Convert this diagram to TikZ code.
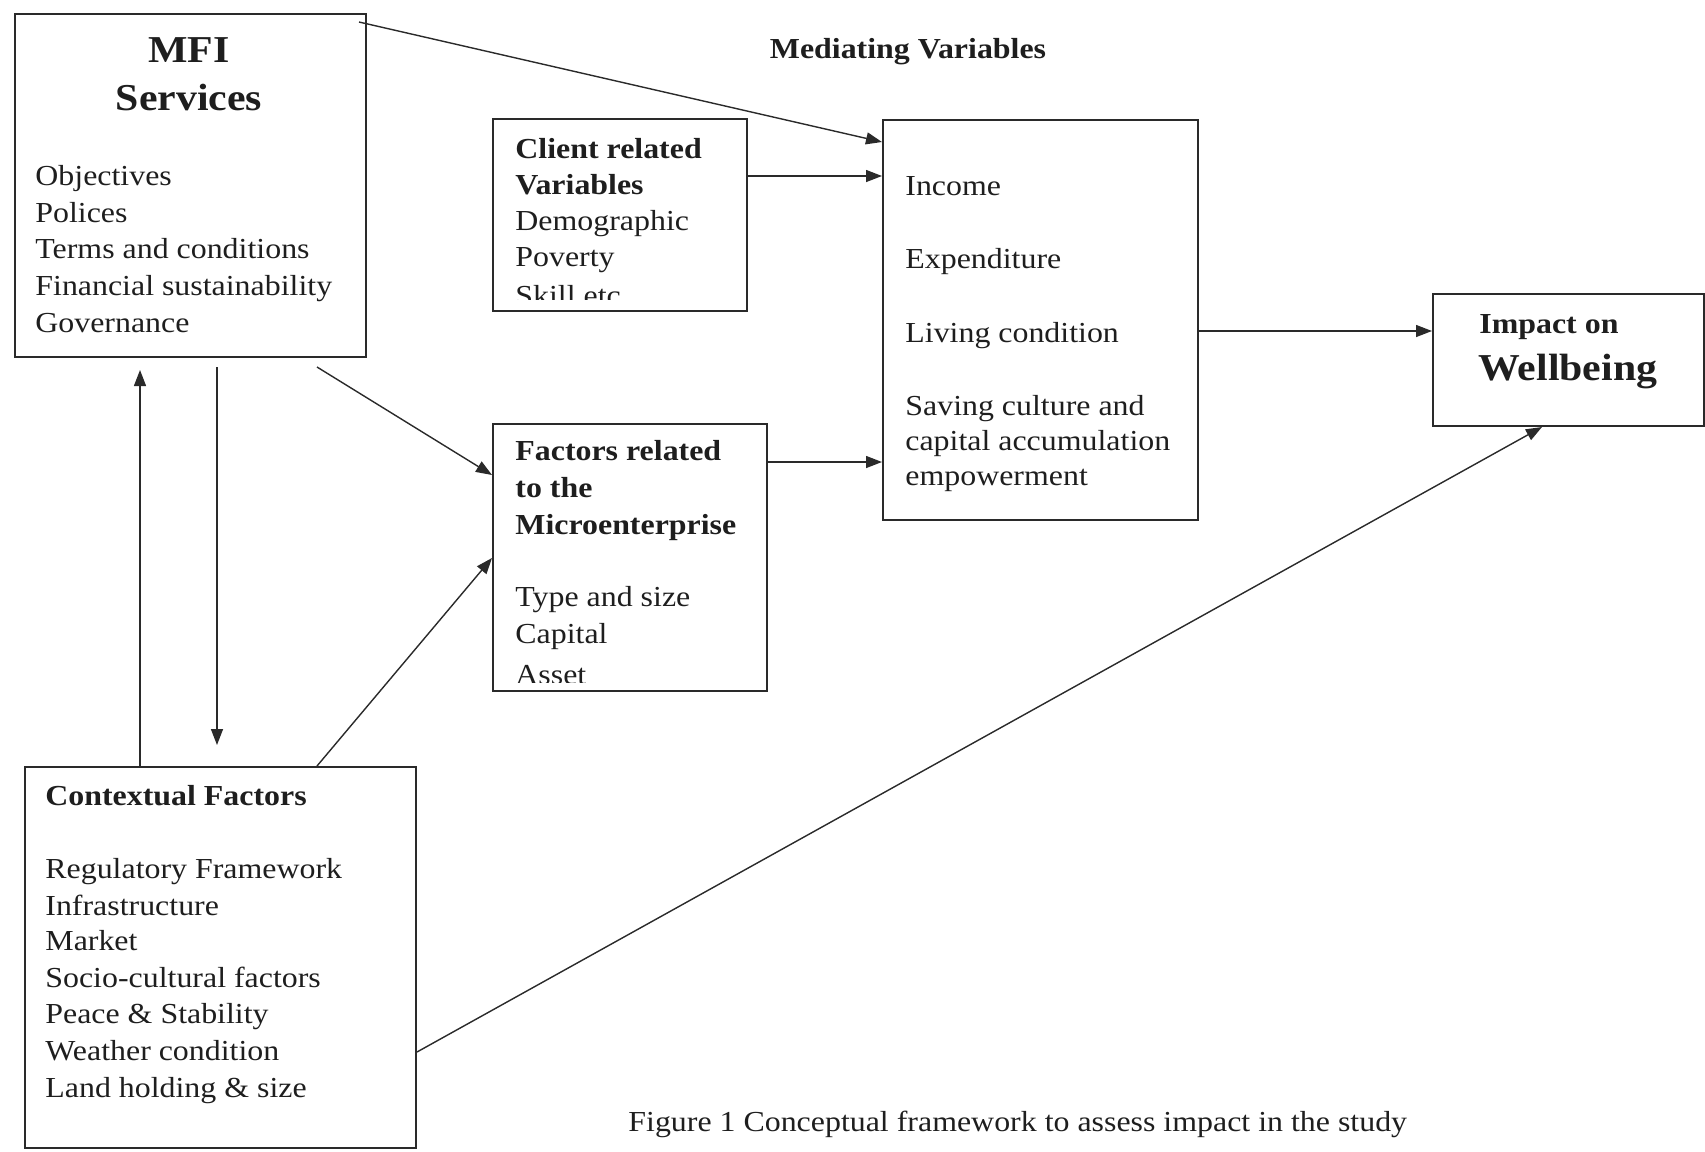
\documentclass[tikz,border=0pt]{standalone}
\usepackage{fontspec}
\setmainfont{Liberation Serif}[FakeStretch=1.1]
\usetikzlibrary{arrows.meta}

\definecolor{linec}{HTML}{2A2A2A}
\definecolor{textc}{HTML}{1E1E1E}

\tikzset{
  box/.style={draw=linec, line width=1pt, inner sep=0pt, anchor=north west},
  item/.style={anchor=base west, inner sep=0pt, text=textc, font=\fontsize{14.5}{17}\selectfont},
  head/.style={item, font=\fontsize{14.5}{17}\selectfont\bfseries},
  big/.style={anchor=base, inner sep=0pt, text=textc, font=\fontsize{19}{23}\selectfont\bfseries},
  arr/.style={-{Triangle[length=8pt,width=6pt]}, line width=0.7pt, draw=linec},
}

\begin{document}
\begin{tikzpicture}[x=0.5pt,y=-0.5pt]
\useasboundingbox (0,0) rectangle (1705,1152);

% boxes
\node[box, minimum width=175.5pt, minimum height=171.5pt] (mfi) at (14,13) {};
\node[box, minimum width=127pt, minimum height=96pt] (client) at (492,118) {};
\node[box, minimum width=137pt, minimum height=133.5pt] (factors) at (492,423) {};
\node[box, minimum width=157.5pt, minimum height=200pt] (med) at (882,119) {};
\node[box, minimum width=135.5pt, minimum height=66pt] (wb) at (1432,293) {};
\node[box, minimum width=195.5pt, minimum height=190.5pt] (ctx) at (24,766) {};

% MFI services
\node[big] (mfi-t1) at ([shift={(175,49)}]mfi.north west) {MFI};
\node[big] (mfi-t2) at ([shift={(175,97)}]mfi.north west) {Services};
\foreach \txt/\yy [count=\i] in {Objectives/172, Polices/209, Terms and conditions/245,
    Financial sustainability/282, Governance/319}
  \node[item] (mfi-\i) at ([shift={(21,\yy)}]mfi.north west) {\txt};

% client related
\begin{scope}
\clip (client.north west) rectangle ([shift={(0,-13)}]client.south east);
\node[head] (client-t1) at ([shift={(23,40)}]client.north west) {Client related};
\node[head] (client-t2) at ([shift={(23,76)}]client.north west) {Variables};
\foreach \txt/\yy [count=\i] in {Demographic/112, Poverty/148, Skill etc/187}
  \node[item] (client-\i) at ([shift={(23,\yy)}]client.north west) {\txt};
\end{scope}

% microenterprise
\begin{scope}
\clip (factors.north west) rectangle ([shift={(0,-10)}]factors.south east);
\foreach \txt/\yy [count=\i] in {Factors related/37, to the/74, Microenterprise/111}
  \node[head] (factors-t\i) at ([shift={(23,\yy)}]factors.north west) {\txt};
\foreach \txt/\yy [count=\i] in {Type and size/183, Capital/220, Asset/261}
  \node[item] (factors-\i) at ([shift={(23,\yy)}]factors.north west) {\txt};
\end{scope}

% mediating variables
\node[head, anchor=base] (medtitle) at (908,58) {Mediating Variables};
\foreach \txt/\yy [count=\i] in {Income/76, Expenditure/149, Living condition/223,
    Saving culture and/296, capital accumulation/331, empowerment/366}
  \node[item] (med-\i) at ([shift={(23,\yy)}]med.north west) {\txt};

% wellbeing
\node[head] (wb-t1) at ([shift={(47,40)}]wb.north west) {Impact on};
\node[big, anchor=base west] (wb-t2) at ([shift={(46,87)}]wb.north west) {Wellbeing};

% contextual factors
\node[head] (ctx-t) at ([shift={(21,39)}]ctx.north west) {Contextual Factors};
\foreach \txt/\yy [count=\i] in {Regulatory Framework/112, Infrastructure/149, Market/184,
    Socio-cultural factors/221, Peace \& Stability/257, Weather condition/294,
    Land holding \& size/331}
  \node[item] (ctx-\i) at ([shift={(21,\yy)}]ctx.north west) {\txt};

\node[item] (caption) at (628,1131) {Figure 1 Conceptual framework to assess impact in the study};

% connectors
\draw[arr] ([shift={(-8,9)}]mfi.north east) -- ([shift={(0,23)}]med.north west);
\draw[arr] ([shift={(0,58)}]client.north east) -- ([shift={(0,57)}]med.north west);
\draw[arr] ([shift={(303,9)}]mfi.south west) -- ([shift={(0,52)}]factors.north west);
\draw[arr] ([shift={(116,0)}]ctx.north west) -- ([shift={(126,12)}]mfi.south west);
\draw[arr] ([shift={(203,9)}]mfi.south west) -- ([shift={(193,-21)}]ctx.north west);
\draw[arr] ([shift={(293,0)}]ctx.north west) -- ([shift={(0,135)}]factors.north west);
\draw[arr] ([shift={(0,39)}]factors.north east) -- ([shift={(0,343)}]med.north west);
\draw[arr] ([shift={(0,212)}]med.north east) -- ([shift={(0,38)}]wb.north west);
\draw[arr] ([shift={(0,286)}]ctx.north east) -- ([shift={(110,0)}]wb.south west);
\end{tikzpicture}
\end{document}
